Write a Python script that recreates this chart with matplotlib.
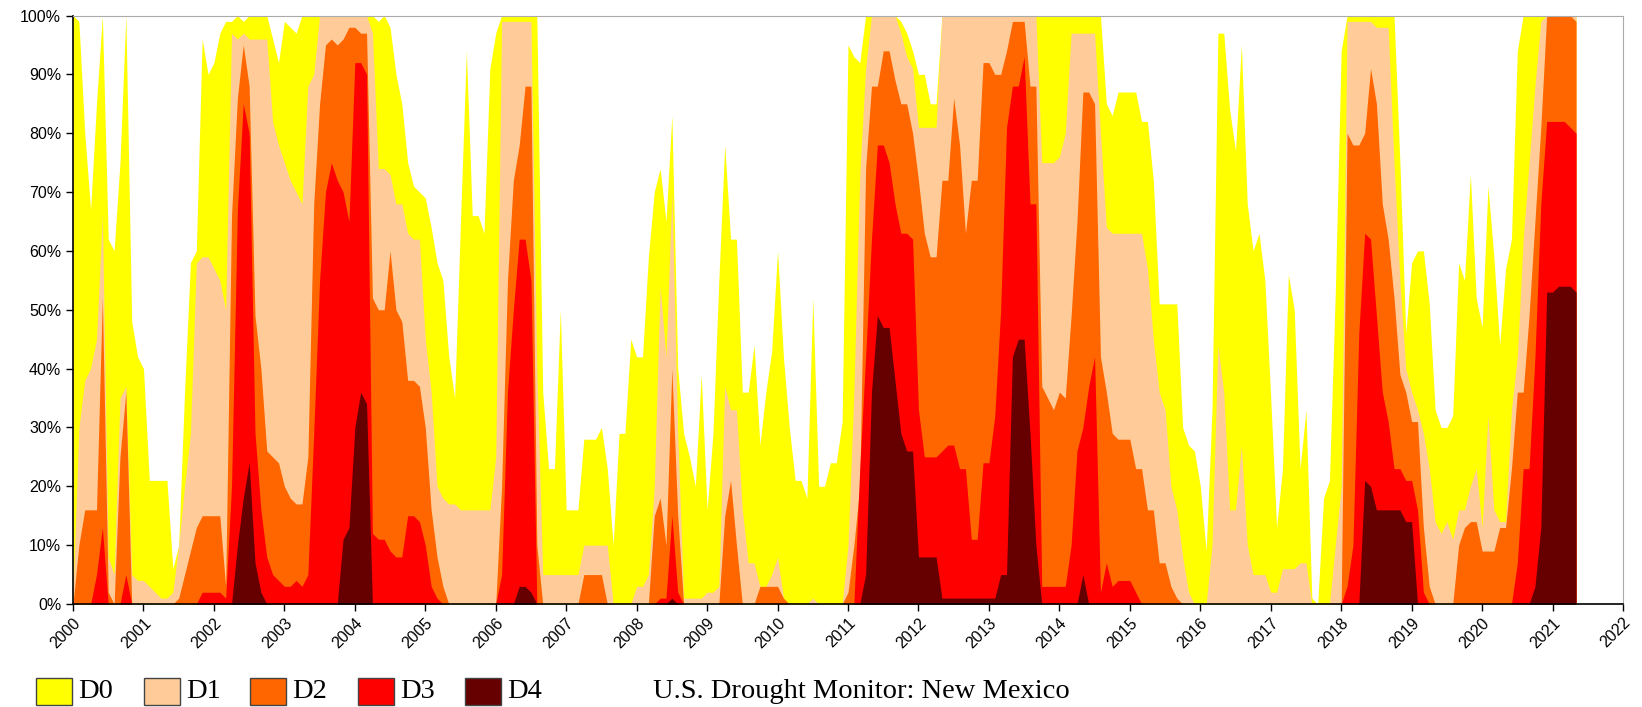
import matplotlib
matplotlib.use("Agg")
import matplotlib.pyplot as plt
from matplotlib.patches import Rectangle
import numpy as np

# U.S. Drought Monitor, New Mexico - cumulative % area, monthly readings 2000-01 .. 2021-05
d0_total = [
    100, 99, 80, 67, 85, 100, 62, 60, 75, 100, 48, 42,      # 2000
    40, 21, 21, 21, 21, 6, 10, 36, 58, 60, 96, 90,          # 2001
    92, 97, 99, 99, 100, 99, 100, 100, 100, 100, 96, 92,    # 2002
    99, 98, 97, 100, 100, 100, 100, 100, 100, 100, 100, 100,  # 2003
    100, 100, 100, 100, 99, 100, 98, 90, 85, 75, 71, 70,    # 2004
    69, 64, 58, 55, 42, 35, 65, 94, 66, 66, 63, 91,         # 2005
    97, 100, 100, 100, 100, 100, 100, 100, 36, 23, 23, 50,  # 2006
    16, 16, 16, 28, 28, 28, 30, 23, 10, 29, 29, 45,         # 2007
    42, 42, 59, 70, 74, 65, 83, 40, 29, 25, 20, 39,         # 2008
    16, 29, 55, 78, 62, 62, 36, 36, 44, 27, 36, 43,         # 2009
    60, 42, 30, 21, 21, 18, 52, 20, 20, 24, 24, 31,         # 2010
    95, 93, 92, 100, 100, 100, 100, 100, 100, 99, 97, 94,   # 2011
    90, 90, 85, 85, 100, 100, 100, 100, 100, 100, 100, 100,  # 2012
    100, 100, 100, 100, 100, 100, 100, 100, 100, 100, 100, 100,  # 2013
    100, 100, 100, 100, 100, 100, 100, 100, 85, 83, 87, 87,  # 2014
    87, 87, 82, 82, 72, 51, 51, 51, 51, 30, 27, 26,         # 2015
    20, 9, 33, 97, 97, 84, 77, 95, 68, 60, 63, 55,          # 2016
    35, 13, 23, 56, 50, 23, 33, 1, 0, 18, 21, 53,           # 2017
    94, 100, 100, 100, 100, 100, 100, 100, 100, 100, 75, 46,  # 2018
    58, 60, 60, 51, 33, 30, 30, 32, 58, 55, 73, 52,         # 2019
    47, 71, 59, 44, 57, 62, 94, 100, 100, 100, 100, 100,    # 2020
    100, 100, 100, 100, 100,                                # 2021
]
d1_total = [
    2, 30, 38, 40, 45, 66, 8, 5, 35, 37, 5, 4,
    4, 3, 2, 1, 1, 2, 10, 20, 29, 58, 59, 59,
    57, 55, 50, 97, 96, 97, 96, 96, 96, 96, 82, 78,
    75, 72, 70, 68, 88, 90, 100, 100, 100, 100, 100, 100,
    100, 100, 100, 97, 74, 74, 73, 68, 68, 63, 62, 62,
    45, 36, 20, 18, 17, 17, 16, 16, 16, 16, 16, 16,
    25, 99, 99, 99, 99, 99, 99, 40, 5, 5, 5, 5,
    5, 5, 5, 10, 10, 10, 10, 10, 0, 0, 0, 0,
    3, 3, 5, 20, 54, 42, 70, 29, 1, 1, 1, 1,
    2, 2, 3, 37, 33, 33, 16, 7, 7, 3, 3, 5,
    8, 1, 0, 0, 0, 0, 1, 0, 0, 0, 0, 0,
    10, 36, 73, 91, 100, 100, 100, 100, 100, 97, 93, 91,
    81, 81, 81, 81, 100, 100, 100, 100, 100, 100, 100, 100,
    100, 100, 100, 100, 100, 100, 100, 100, 100, 75, 75, 75,
    76, 80, 97, 97, 97, 97, 97, 80, 64, 63, 63, 63,
    63, 63, 63, 57, 45, 36, 33, 20, 16, 8, 2, 0,
    0, 0, 10, 44, 36, 16, 16, 27, 10, 5, 5, 5,
    2, 2, 6, 6, 6, 7, 7, 0, 0, 0, 0, 10,
    20, 99, 99, 99, 99, 99, 98, 98, 98, 75, 55, 40,
    36, 33, 29, 23, 14, 12, 14, 11, 16, 16, 20, 23,
    13, 32, 16, 14, 14, 33, 42, 62, 75, 88, 99, 100,
    100, 100, 100, 100, 100,
]
d2_total = [
    0, 10, 16, 16, 16, 52, 2, 0, 25, 36, 0, 0,
    0, 0, 0, 0, 0, 0, 1, 5, 9, 13, 15, 15,
    15, 15, 3, 66, 86, 95, 88, 49, 40, 26, 25, 24,
    20, 18, 17, 17, 25, 68, 85, 95, 96, 95, 96, 98,
    98, 97, 97, 52, 50, 50, 60, 50, 48, 38, 38, 37,
    30, 16, 8, 3, 0, 0, 0, 0, 0, 0, 0, 0,
    0, 20, 55, 72, 78, 88, 88, 10, 0, 0, 0, 0,
    0, 0, 0, 5, 5, 5, 5, 0, 0, 0, 0, 0,
    0, 0, 0, 15, 18, 10, 40, 15, 0, 0, 0, 0,
    0, 0, 0, 15, 21, 10, 0, 0, 0, 3, 3, 3,
    3, 1, 0, 0, 0, 0, 0, 0, 0, 0, 0, 0,
    2, 10, 20, 74, 88, 88, 94, 94, 89, 85, 85, 80,
    72, 63, 59, 59, 72, 72, 86, 78, 63, 72, 72, 92,
    92, 90, 90, 94, 99, 99, 99, 88, 88, 37, 35, 33,
    36, 35, 49, 65, 87, 87, 85, 42, 36, 29, 28, 28,
    28, 23, 23, 16, 16, 7, 7, 3, 1, 0, 0, 0,
    0, 0, 0, 0, 0, 0, 0, 0, 0, 0, 0, 0,
    0, 0, 0, 0, 0, 0, 0, 0, 0, 0, 0, 0,
    0, 80, 78, 78, 80, 91, 85, 68, 62, 52, 39, 36,
    31, 31, 13, 3, 0, 0, 0, 0, 10, 13, 14, 14,
    9, 9, 9, 13, 13, 23, 36, 36, 49, 65, 81, 100,
    100, 100, 100, 100, 99,
]
d3_total = [
    0, 0, 0, 0, 5, 13, 0, 0, 0, 5, 0, 0,
    0, 0, 0, 0, 0, 0, 0, 0, 0, 0, 2, 2,
    2, 2, 1, 20, 67, 85, 80, 29, 16, 8, 5, 4,
    3, 3, 4, 3, 5, 29, 55, 70, 75, 72, 70, 65,
    92, 92, 90, 12, 11, 11, 9, 8, 8, 15, 15, 14,
    10, 3, 1, 0, 0, 0, 0, 0, 0, 0, 0, 0,
    0, 5, 36, 50, 62, 62, 55, 0, 0, 0, 0, 0,
    0, 0, 0, 0, 0, 0, 0, 0, 0, 0, 0, 0,
    0, 0, 0, 0, 1, 1, 15, 2, 0, 0, 0, 0,
    0, 0, 0, 0, 0, 0, 0, 0, 0, 0, 0, 0,
    0, 0, 0, 0, 0, 0, 0, 0, 0, 0, 0, 0,
    0, 0, 23, 42, 62, 78, 78, 75, 68, 63, 63, 62,
    33, 25, 25, 25, 26, 27, 27, 23, 23, 11, 11, 24,
    24, 32, 50, 81, 88, 88, 93, 68, 68, 3, 3, 3,
    3, 3, 10, 26, 30, 37, 42, 2, 7, 3, 4, 4,
    4, 2, 0, 0, 0, 0, 0, 0, 0, 0, 0, 0,
    0, 0, 0, 0, 0, 0, 0, 0, 0, 0, 0, 0,
    0, 0, 0, 0, 0, 0, 0, 0, 0, 0, 0, 0,
    0, 3, 10, 46, 63, 62, 49, 36, 31, 23, 23, 21,
    21, 16, 2, 0, 0, 0, 0, 0, 0, 0, 0, 0,
    0, 0, 0, 0, 0, 0, 7, 23, 23, 42, 68, 82,
    82, 82, 82, 81, 80,
]
d4_total = [
    0, 0, 0, 0, 0, 0, 0, 0, 0, 0, 0, 0,
    0, 0, 0, 0, 0, 0, 0, 0, 0, 0, 0, 0,
    0, 0, 0, 0, 10, 18, 24, 7, 2, 0, 0, 0,
    0, 0, 0, 0, 0, 0, 0, 0, 0, 0, 11, 13,
    30, 36, 34, 0, 0, 0, 0, 0, 0, 0, 0, 0,
    0, 0, 0, 0, 0, 0, 0, 0, 0, 0, 0, 0,
    0, 0, 0, 0, 3, 3, 2, 0, 0, 0, 0, 0,
    0, 0, 0, 0, 0, 0, 0, 0, 0, 0, 0, 0,
    0, 0, 0, 0, 0, 0, 1, 0, 0, 0, 0, 0,
    0, 0, 0, 0, 0, 0, 0, 0, 0, 0, 0, 0,
    0, 0, 0, 0, 0, 0, 0, 0, 0, 0, 0, 0,
    0, 0, 0, 5, 36, 49, 47, 47, 38, 29, 26, 26,
    8, 8, 8, 8, 1, 1, 1, 1, 1, 1, 1, 1,
    1, 1, 5, 5, 42, 45, 45, 29, 10, 0, 0, 0,
    0, 0, 0, 0, 5, 0, 0, 0, 0, 0, 0, 0,
    0, 0, 0, 0, 0, 0, 0, 0, 0, 0, 0, 0,
    0, 0, 0, 0, 0, 0, 0, 0, 0, 0, 0, 0,
    0, 0, 0, 0, 0, 0, 0, 0, 0, 0, 0, 0,
    0, 0, 0, 0, 21, 20, 16, 16, 16, 16, 16, 14,
    14, 0, 0, 0, 0, 0, 0, 0, 0, 0, 0, 0,
    0, 0, 0, 0, 0, 0, 0, 0, 0, 3, 13, 53,
    53, 54, 54, 54, 53,
]

labels = ["D0", "D1", "D2", "D3", "D4"]
colors = ["#FFFF00", "#FFCC99", "#FF6600", "#FF0000", "#660000"]
years = list(range(2000, 2023))
title = "U.S. Drought Monitor: New Mexico"

t = 2000 + np.arange(len(d0_total)) / 12.0
levels = [d0_total, d1_total, d2_total, d3_total, d4_total]

W, H = 1642, 707
fig = plt.figure(figsize=(W / 100, H / 100), dpi=100)
ax = fig.add_axes([73 / W, 1 - 604 / H, (1623 - 73) / W, (604 - 15.5) / H])

# each level drawn from 0 up to its cumulative top, lighter first
for vals, c in zip(levels, colors):
    ax.fill_between(t, 0, vals, color=c, linewidth=0)

ax.set_xlim(2000, 2022)
ax.set_ylim(0, 100)
ax.set_xticks(years)
ax.set_xticklabels([str(y) for y in years], rotation=45, ha="right",
                   rotation_mode="anchor", family="Liberation Sans", fontsize=11.5)
ax.set_yticks(range(0, 101, 10))
ax.set_yticklabels([f"{v}%" for v in range(0, 101, 10)],
                   family="Liberation Sans", fontsize=11.5)
ax.tick_params(direction="out", length=5, width=1, color="black")
ax.tick_params(axis="x", pad=3)
for s in ["top", "right"]:
    ax.spines[s].set_color("#aaaaaa")
for s in ["left", "bottom"]:
    ax.spines[s].set_color("black")
    ax.spines[s].set_linewidth(1.2)

# legend along the bottom
box_left = [36, 144, 250, 358, 465]
for x0, lab, c in zip(box_left, labels, colors):
    fig.add_artist(Rectangle((x0 / W, 2 / H), 36 / W, 27 / H, transform=fig.transFigure,
                             facecolor=c, edgecolor="#444444", linewidth=1))
    fig.text((x0 + 42) / W, 15.5 / H, lab, family="Liberation Serif",
             fontsize=20.5, va="center", ha="left")
fig.text(653 / W, 15.5 / H, title, family="Liberation Serif",
         fontsize=20.5, va="center", ha="left")

fig.savefig("out.png", dpi=100)
